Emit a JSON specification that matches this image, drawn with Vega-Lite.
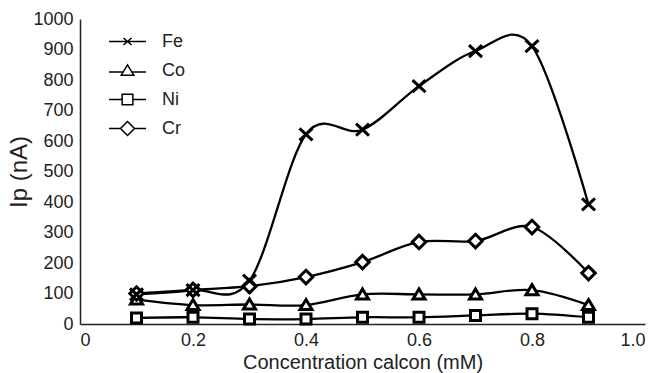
{
  "$schema": "https://vega.github.io/schema/vega-lite/v6.json",
  "width": 565,
  "height": 305,
  "autosize": "none",
  "padding": {"left": 80, "top": 19, "right": 14, "bottom": 49},
  "background": "white",
  "data": {
    "values": [
      {"c": 0.1, "m": "Ni", "ip": 20}, {"c": 0.2, "m": "Ni", "ip": 22}, {"c": 0.3, "m": "Ni", "ip": 16}, {"c": 0.4, "m": "Ni", "ip": 16}, {"c": 0.5, "m": "Ni", "ip": 22}, {"c": 0.6, "m": "Ni", "ip": 22}, {"c": 0.7, "m": "Ni", "ip": 28}, {"c": 0.8, "m": "Ni", "ip": 34}, {"c": 0.9, "m": "Ni", "ip": 22},
      {"c": 0.1, "m": "Co", "ip": 80}, {"c": 0.2, "m": "Co", "ip": 62}, {"c": 0.3, "m": "Co", "ip": 64}, {"c": 0.4, "m": "Co", "ip": 62}, {"c": 0.5, "m": "Co", "ip": 97}, {"c": 0.6, "m": "Co", "ip": 97}, {"c": 0.7, "m": "Co", "ip": 97}, {"c": 0.8, "m": "Co", "ip": 111}, {"c": 0.9, "m": "Co", "ip": 62},
      {"c": 0.1, "m": "Cr", "ip": 100}, {"c": 0.2, "m": "Cr", "ip": 112}, {"c": 0.3, "m": "Cr", "ip": 124}, {"c": 0.4, "m": "Cr", "ip": 154}, {"c": 0.5, "m": "Cr", "ip": 203}, {"c": 0.6, "m": "Cr", "ip": 269}, {"c": 0.7, "m": "Cr", "ip": 272}, {"c": 0.8, "m": "Cr", "ip": 318}, {"c": 0.9, "m": "Cr", "ip": 167},
      {"c": 0.1, "m": "Fe", "ip": 97}, {"c": 0.2, "m": "Fe", "ip": 111}, {"c": 0.3, "m": "Fe", "ip": 142}, {"c": 0.4, "m": "Fe", "ip": 622}, {"c": 0.5, "m": "Fe", "ip": 637}, {"c": 0.6, "m": "Fe", "ip": 780}, {"c": 0.7, "m": "Fe", "ip": 895}, {"c": 0.8, "m": "Fe", "ip": 911}, {"c": 0.9, "m": "Fe", "ip": 392}
    ]
  },
  "encoding": {
    "x": {
      "field": "c", "type": "quantitative",
      "scale": {"domain": [0, 1], "nice": false, "zero": false},
      "axis": {
        "title": "Concentration calcon (mM)",
        "values": [0, 0.2, 0.4, 0.6, 0.8, 1.0],
        "labelExpr": "datum.value == 0 ? '0' : format(datum.value, '.1f')",
        "labelPadding": 7,
        "titlePadding": 3
      }
    },
    "y": {
      "field": "ip", "type": "quantitative",
      "scale": {"domain": [0, 1000], "nice": false},
      "axis": {
        "title": "Ip (nA)",
        "format": "d",
        "values": [0, 100, 200, 300, 400, 500, 600, 700, 800, 900, 1000],
        "labelPadding": 7,
        "titlePadding": 1,
        "titleFontSize": 24
      }
    }
  },
  "layer": [
    {
      "mark": {"type": "line", "interpolate": "cardinal", "stroke": "black", "strokeWidth": 2.3},
      "encoding": {"detail": {"field": "m", "type": "nominal"}}
    },
    {
      "mark": {"type": "point", "filled": true, "fill": "white", "stroke": "black", "strokeWidth": 3, "size": 100, "opacity": 1},
      "encoding": {
        "shape": {
          "field": "m", "type": "nominal",
          "scale": {
            "domain": ["Fe", "Co", "Ni", "Cr"],
            "range": [
              "M-1.3,-1.2L1.3,1.2M-1.3,1.2L1.3,-1.2",
              "M0,-1.1L1.2,0.9L-1.2,0.9Z",
              "M-1,-1H1V1H-1Z",
              "M0,-1.35L1.35,0L0,1.35L-1.35,0Z"
            ]
          },
          "legend": null
        }
      }
    },
    {
      "transform": [{"filter": "false"}],
      "mark": {"type": "point", "filled": true, "fill": "white", "stroke": "black", "strokeWidth": 2.6, "size": 1369, "opacity": 1},
      "encoding": {
        "shape": {
          "field": "m", "type": "nominal",
          "scale": {
            "domain": ["Fe", "Co", "Ni", "Cr"],
            "range": [
              "M-1,0L1,0M-0.22,-0.19L0.22,0.19M-0.22,0.19L0.22,-0.19",
              "M-1,0.08L-0.25,0.08M0.25,0.08L1,0.08M0,-0.3L0.34,0.25L-0.34,0.25Z",
              "M-1,0L-0.29,0M0.29,0L1,0M-0.29,-0.29L0.29,-0.29L0.29,0.29L-0.29,0.29Z",
              "M-1,0L-0.38,0M0.38,0L1,0M0,-0.38L0.38,0L0,0.38L-0.38,0Z"
            ]
          },
          "legend": {
            "title": null,
            "orient": "none",
            "legendX": 28,
            "legendY": 3,
            "padding": 0,
            "symbolSize": 1369,
            "rowPadding": -15,
            "labelOffset": 15,
            "labelFontSize": 18,
            "labelColor": "#222",
            "labelFont": "Liberation Sans"
          }
        }
      }
    }
  ],
  "resolve": {"scale": {"shape": "independent"}, "legend": {"shape": "independent"}},
  "config": {
    "view": {"stroke": null},
    "font": "Liberation Sans",
    "axis": {
      "grid": false,
      "ticks": false,
      "domainColor": "#222",
      "domainWidth": 1.5,
      "labelFont": "Liberation Sans",
      "labelFontSize": 18,
      "labelColor": "#222",
      "titleFont": "Liberation Sans",
      "titleFontSize": 20,
      "titleFontWeight": "normal",
      "titleColor": "#222"
    }
  }
}
